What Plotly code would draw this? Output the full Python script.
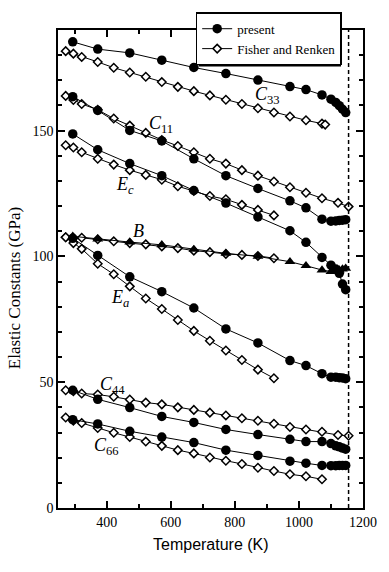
import plotly.graph_objects as go

# ---------------- data ----------------
T_present = [294, 372, 472, 572, 672, 772, 872, 972, 1022, 1072, 1100, 1115, 1126, 1136, 1146]
C33_present = [185.3, 182.4, 180.9, 178.0, 175.1, 172.7, 170.1, 167.5, 166.3, 164.2, 162.5, 161.2, 159.9, 158.5, 157.2]
C11_present = [163.5, 158.0, 150.1, 145.9, 138.8, 132.1, 127.0, 122.1, 119.3, 114.8, 114.0, 114.1, 114.3, 114.4, 114.6]
Ec_present = [148.7, 142.4, 136.9, 132.1, 126.2, 121.2, 115.7, 110.2, 105.6, 99.6, 96.5, 95.0, 93.3, 89.0, 86.8]
B_present = [108.0, 106.9, 105.7, 104.6, 102.8, 101.2, 100.0, 97.9, 96.3, 94.6, 94.0, 94.3, 94.6, 95.0, 95.3]
Ea_present = [107.2, 100.4, 91.9, 86.0, 79.5, 71.2, 65.6, 58.6, 56.6, 53.4, 52.0, 52.0, 51.8, 51.7, 51.4]
C44_present = [46.8, 43.2, 39.9, 36.4, 34.0, 31.2, 29.2, 27.3, 26.4, 26.4, 25.6, 24.7, 24.3, 23.8, 23.4]
C66_present = [35.1, 33.4, 30.5, 28.2, 26.0, 23.0, 20.9, 18.6, 17.8, 16.9, 16.8, 16.8, 16.9, 16.9, 16.9]

T_fr_long = [272, 296, 322, 372, 422, 472, 522, 572, 622, 672, 722, 772, 822, 872, 922, 972, 1022, 1072, 1122, 1155]
T_fr_c33 = [272, 296, 322, 372, 422, 472, 522, 572, 622, 672, 722, 772, 822, 872, 922, 972, 1022, 1072, 1082]
T_fr_c66 = [272, 296, 322, 372, 422, 472, 522, 572, 622, 672, 722, 772, 822, 872, 922, 972, 1022, 1072]
T_fr_short = [272, 296, 322, 372, 422, 472, 522, 572, 622, 672, 722, 772, 822, 872, 922]

C33_fr = [181.6, 180.6, 179.3, 177.3, 175.0, 173.1, 171.4, 169.3, 167.4, 165.7, 164.0, 162.3, 160.6, 158.9, 157.2, 155.6, 154.1, 152.8, 152.4]
C11_fr = [163.8, 162.2, 160.6, 158.3, 154.8, 152.0, 149.1, 146.3, 143.9, 141.4, 138.8, 136.9, 134.3, 132.1, 129.8, 127.5, 125.3, 123.1, 121.3, 119.8]
Ec_fr = [144.2, 143.3, 141.4, 138.8, 136.5, 134.3, 132.4, 130.5, 127.9, 126.0, 124.0, 122.7, 120.5, 118.5, 116.3]
B_fr = [107.6, 107.3, 107.4, 106.8, 106.0, 105.3, 104.8, 104.0, 103.3, 102.3, 101.7, 101.0, 100.6, 100.2, 99.3]
Ea_fr = [107.6, 105.3, 103.0, 97.1, 92.9, 88.1, 83.3, 79.1, 74.7, 70.4, 66.5, 62.6, 58.8, 55.0, 51.6]
C44_fr = [46.8, 46.4, 45.5, 45.1, 44.2, 43.1, 41.9, 41.2, 40.0, 39.0, 37.9, 36.8, 35.7, 34.7, 33.5, 32.2, 31.2, 30.3, 29.0, 28.7]
C66_fr = [36.0, 34.7, 33.8, 31.8, 29.9, 28.2, 26.4, 24.7, 23.0, 21.7, 20.1, 18.8, 17.5, 16.0, 14.7, 13.4, 12.6, 11.4]

T_transition = 1155

curve_labels = ["<i>C</i><sub>33</sub>", "<i>C</i><sub>11</sub>", "<i>E<sub>c</sub></i>", "<i>B</i>",
                "<i>E<sub>a</sub></i>", "<i>C</i><sub>44</sub>", "<i>C</i><sub>66</sub>"]
label_T = [902, 569, 458, 500, 442, 419, 398]
label_val = [164.0, 152.6, 128.0, 110.0, 83.4, 48.6, 24.3]

# ---------------- figure ----------------
SERIF = "Liberation Serif, Times New Roman, serif"
SANS = "Liberation Sans, Arial, sans-serif"

fig = go.Figure()

filled = dict(symbol="circle", size=9.5, color="black", line=dict(color="black", width=0))
tri = dict(symbol="triangle-up", size=9.5, color="black", line=dict(color="black", width=0))
opend = dict(symbol="diamond", size=6.5, color="white", line=dict(color="black", width=1.5))
lstyle = dict(color="black", width=1)

fr_sets = [(T_fr_c33, C33_fr), (T_fr_long, C11_fr), (T_fr_short, Ec_fr), (T_fr_short, B_fr),
           (T_fr_short, Ea_fr), (T_fr_long, C44_fr), (T_fr_c66, C66_fr)]
pr_sets = [C33_present, C11_present, Ec_present, B_present, Ea_present, C44_present, C66_present]

for i, (tx, vy) in enumerate(fr_sets):
    fig.add_trace(go.Scatter(x=tx, y=vy, mode="lines+markers", line=lstyle, marker=opend,
                             name="Fisher and Renken", showlegend=(i == 0), legendrank=2))
for i, vy in enumerate(pr_sets):
    fig.add_trace(go.Scatter(x=T_present, y=vy, mode="lines+markers", line=lstyle,
                             marker=(tri if i == 3 else filled),
                             name="present", showlegend=(i == 0), legendrank=1))

for txt, tx, ty in zip(curve_labels, label_T, label_val):
    fig.add_annotation(x=tx, y=ty, xref="x", yref="y", text=txt, showarrow=False,
                       font=dict(family=SERIF, size=18, color="black"))

fig.add_shape(type="line", xref="x", yref="paper", x0=T_transition, x1=T_transition, y0=0, y1=1,
              line=dict(color="black", width=1.5, dash="4px,3px"))

# legend drop shadow (pixel geometry converted to paper coordinates)
L, R, TOP, BOT = 58, 377, 23, 508
def px_x(p):
    return (p - L) / (R - L)
def px_y(p):
    return (BOT - p) / (BOT - TOP)
fig.add_shape(type="rect", xref="paper", yref="paper",
              x0=px_x(205), x1=px_x(354), y0=px_y(8), y1=px_y(60),
              fillcolor="black", line=dict(width=0), layer="above")

axis_common = dict(showline=True, linecolor="black", linewidth=1.5, mirror="allticks",
                   ticks="inside", ticklen=7, tickwidth=1.5, tickcolor="black",
                   showgrid=False, zeroline=False,
                   tickfont=dict(family=SERIF, size=14, color="black"))

fig.update_xaxes(range=[248, 1200], dtick=200, tick0=0,
                 minor=dict(dtick=100, tick0=0, ticks="inside", ticklen=4, tickcolor="black", tickwidth=1.5),
                 **axis_common)
fig.update_yaxes(range=[0, 190], dtick=50, tick0=0,
                 minor=dict(dtick=10, tick0=0, ticks="inside", ticklen=4, tickcolor="black", tickwidth=1.5),
                 **axis_common)

fig.add_annotation(x=0.5, y=-0.076, xref="paper", yref="paper", text="Temperature (K)",
                   showarrow=False, yanchor="middle",
                   font=dict(family=SANS, size=16, color="black"))
fig.add_annotation(x=-0.144, y=0.46, xref="paper", yref="paper", text="Elastic Constants (GPa)",
                   showarrow=False, textangle=-90, xanchor="center", yanchor="middle",
                   font=dict(family=SERIF, size=17, color="black"))

fig.update_layout(
    width=389, height=572, autosize=False,
    margin=dict(l=L, r=389 - R, t=TOP, b=572 - BOT),
    paper_bgcolor="white", plot_bgcolor="white",
    legend=dict(x=px_x(202), y=px_y(5), xanchor="left", yanchor="top",
                bgcolor="white", bordercolor="black", borderwidth=1.5,
                font=dict(family=SERIF, size=13, color="black"),
                itemwidth=30, tracegroupgap=0),
)

fig.write_html("out.html")
